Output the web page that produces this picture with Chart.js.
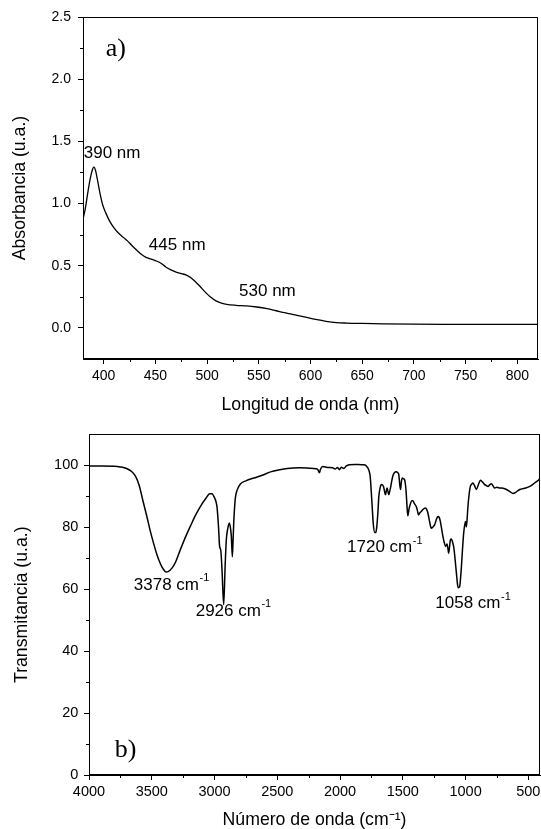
<!DOCTYPE html>
<html>
<head>
<meta charset="utf-8">
<script src="https://cdn.jsdelivr.net/npm/chart.js@4.4.1/dist/chart.umd.min.js"></script>
<style>
  html, body { margin: 0; padding: 0; background: #fff; }
  #wrap { position: relative; width: 541px; height: 829px; overflow: hidden; }
  canvas { position: absolute; left: 0; }
  #uvChart { top: 0; }
  #irChart { top: 420px; }
</style>
</head>
<body>
<div id="wrap">
  <canvas id="uvChart" width="541" height="420"></canvas>
  <canvas id="irChart" width="541" height="409"></canvas>
</div>
<script>
// a) UV-Vis spectrum
const uvWavelength = [380, 382, 384.5, 387, 389, 390.5, 392, 394, 396.5, 399, 402, 406, 410, 414, 419, 423, 427, 432, 437, 441,
  446, 450, 455, 460, 465, 470, 475, 480, 484, 488, 493, 498, 503, 509, 514, 519, 528, 538, 548, 558,
  566, 575, 585, 595, 605, 615, 625, 635, 650, 670, 700, 740, 780, 820];
const uvAbsorbance = [0.875, 0.95, 1.08, 1.20, 1.27, 1.295, 1.27, 1.19, 1.08, 0.99, 0.925, 0.855, 0.805, 0.765, 0.728, 0.70, 0.665, 0.625, 0.588, 0.567,
  0.553, 0.541, 0.522, 0.49, 0.466, 0.449, 0.437, 0.425, 0.405, 0.377, 0.335, 0.29, 0.25, 0.215, 0.20, 0.19, 0.182, 0.177, 0.168, 0.155,
  0.14, 0.122, 0.104, 0.086, 0.068, 0.053, 0.043, 0.039, 0.036, 0.033, 0.030, 0.029, 0.028, 0.028];
const uvTicksX = [400, 450, 500, 550, 600, 650, 700, 750, 800];
const uvMinorX = [425, 475, 525, 575, 625, 675, 725, 775];
const uvTicksY = [0, 0.5, 1.0, 1.5, 2.0, 2.5];
const uvMinorY = [0.25, 0.75, 1.25, 1.75, 2.25];
const uvNotes = [
  { text: '390 nm', x: 380.7, y: 1.40 },
  { text: '445 nm', x: 443.7, y: 0.667 },
  { text: '530 nm', x: 530.9, y: 0.298 }
];

// b) FTIR spectrum
const irWavenumber = [4000, 3900, 3800, 3752, 3700, 3660, 3630, 3600, 3570, 3539, 3510, 3486, 3460, 3433, 3410, 3387, 3370, 3339, 3310, 3273,
  3230, 3193, 3150, 3113, 3070, 3038, 3020, 3006, 2990, 2980, 2968, 2960, 2950, 2940, 2927, 2915, 2906, 2895, 2882, 2872,
  2866, 2858, 2852, 2847, 2840, 2834, 2820, 2794, 2750, 2687, 2620, 2554, 2480, 2421, 2325, 2250, 2192, 2175, 2165, 2155,
  2139, 2100, 2059, 2040, 2020, 2005, 1990, 1970, 1950, 1926, 1880, 1830, 1806, 1779, 1770, 1760, 1752, 1744, 1735, 1723,
  1715, 1707, 1698, 1691, 1680, 1672, 1654, 1645, 1638, 1630, 1625, 1618, 1612, 1605, 1598, 1580, 1553, 1540, 1532, 1525,
  1518, 1512, 1505, 1492, 1486, 1478, 1473, 1466, 1460, 1450, 1438, 1428, 1420, 1410, 1393, 1383, 1375, 1365, 1353, 1335,
  1319, 1310, 1300, 1285, 1273, 1260, 1247, 1230, 1220, 1210, 1201, 1190, 1180, 1168, 1159, 1148, 1140, 1135, 1128, 1121,
  1113, 1105, 1093, 1083, 1073, 1065, 1058, 1047, 1040, 1033, 1025, 1015, 1001, 994, 988, 981, 972, 962, 950, 941,
  930, 914, 900, 882, 865, 847, 835, 821, 810, 794, 780, 768, 750, 728, 700, 674, 650, 621, 600, 568,
  530, 488, 450, 420, 407];
const irTransmittance = [99.8, 99.8, 99.7, 99.5, 99.0, 98.0, 96.5, 93.5, 88.5, 83.5, 78.5, 74.9, 71.3, 68.4, 66.6, 65.6, 65.7, 66.8, 68.8, 72.7,
  77.0, 80.3, 84.0, 86.7, 89.3, 90.8, 90.8, 90.0, 88.5, 86.5, 80, 74, 72.5, 66, 55.0, 68, 76, 79.5, 81.4, 79.5,
  77, 70.5, 76, 81.4, 86.5, 89.5, 92, 94.0, 95.0, 95.9, 96.8, 97.9, 98.6, 99.0, 99.2, 99.1, 98.9, 98.5, 97.6, 98.8,
  99.6, 99.3, 99.2, 98.8, 99.3, 98.6, 99.4, 99.0, 99.8, 100.2, 100.3, 100.2, 100.2, 99.2, 98.4, 96.5, 92, 86.7, 81, 78.3,
  78.3, 80.3, 85, 90, 92.8, 93.8, 93.2, 91.5, 90.5, 92, 92.7, 91.5, 90.5, 91.5, 92.7, 96.5, 97.9, 97.6, 97.0, 94,
  92.2, 94.5, 95.9, 95.6, 95.4, 93.5, 91.1, 86.5, 83.7, 86, 87.8, 88.6, 88.6, 87.8, 86.7, 85.3, 84.0, 84.6, 85.1, 85.9,
  86.2, 85.8, 84.6, 81.5, 79.7, 80.1, 80.8, 82.8, 83.5, 83.2, 81.9, 79.3, 77.0, 74.8, 73.8, 74.6, 73, 71.6, 73.5, 75.9,
  76.2, 75.4, 73.3, 69.5, 65.2, 61.8, 60.5, 60.8, 63.5, 67.3, 72.5, 78.1, 81.9, 80.1, 82.5, 86.7, 90.5, 93.2, 94.0, 94.3,
  93.6, 92.2, 93.5, 95.2, 94.6, 93.8, 93.5, 93.2, 93.6, 94.1, 93.3, 92.7, 92.9, 92.7, 92.6, 92.2, 91.6, 90.9, 91.3, 92.2,
  92.6, 93.2, 94.3, 95.2, 95.8];
const irTicksX = [4000, 3500, 3000, 2500, 2000, 1500, 1000, 500];
const irMinorX = [3750, 3250, 2750, 2250, 1750, 1250, 750];
const irTicksY = [0, 20, 40, 60, 80, 100];
const irMinorY = [10, 30, 50, 70, 90];
const irNotes = [
  { text: '3378 cm', sup: '-1', x: 3643, y: 61.4 },
  { text: '2926 cm', sup: '-1', x: 3150, y: 53.0 },
  { text: '1720 cm', sup: '-1', x: 1944, y: 73.5 },
  { text: '1058 cm', sup: '-1', x: 1241, y: 55.4 }
];

const SANS = "'Liberation Sans', Arial, sans-serif";
const SERIF = "'Liberation Serif', 'Times New Roman', serif";

// frame box, minor ticks and peak labels
const framePlugin = {
  id: 'frame',
  afterDraw(chart, args, opts) {
    const { ctx, chartArea: a, scales } = chart;
    ctx.save();
    ctx.strokeStyle = '#000';
    ctx.lineWidth = 1;
    const l = Math.round(a.left) + 0.5, t = Math.round(a.top) + 0.5;
    const r = Math.round(a.right) - 0.5, b = Math.round(a.bottom) - 0.5;
    ctx.strokeRect(l, t, r - l, b - t);

    ctx.beginPath();
    opts.minorX.forEach(v => {
      const px = Math.round(scales.x.getPixelForValue(v)) + 0.5;
      ctx.moveTo(px, b);
      ctx.lineTo(px, b + 3.5);
    });
    opts.minorY.forEach(v => {
      const py = Math.round(scales.y.getPixelForValue(v)) + 0.5;
      ctx.moveTo(l - 3.5, py);
      ctx.lineTo(l, py);
    });
    ctx.stroke();

    ctx.fillStyle = '#000';
    ctx.textBaseline = 'middle';
    ctx.textAlign = 'left';
    opts.notes.forEach(n => {
      const px = scales.x.getPixelForValue(n.x);
      const py = scales.y.getPixelForValue(n.y);
      ctx.font = '17px ' + SANS;
      ctx.fillText(n.text, px, py);
      if (n.sup) {
        const w = ctx.measureText(n.text).width;
        ctx.font = '11px ' + SANS;
        ctx.fillText(n.sup, px + w + 0.5, py - 6.5);
      }
    });

    const tag = opts.tag;
    ctx.font = '26px ' + SERIF;
    ctx.fillText(tag.text, scales.x.getPixelForValue(tag.x), scales.y.getPixelForValue(tag.y));
    ctx.restore();
  }
};

function axisX(cfg) {
  return {
    type: 'linear',
    min: cfg.min,
    max: cfg.max,
    reverse: !!cfg.reverse,
    afterBuildTicks: s => { s.ticks = cfg.ticks.map(v => ({ value: v })); },
    afterFit: s => { s.height = cfg.height; s.paddingLeft = 0; s.paddingRight = 0; },
    border: { display: true, color: '#000', width: 1 },
    grid: { display: true, drawOnChartArea: false, drawTicks: true, tickLength: 5, tickColor: '#000' },
    ticks: { color: '#000', font: { family: SANS, size: cfg.tickSize }, padding: cfg.tickPad, maxRotation: 0, autoSkip: false, callback: v => String(v) },
    title: {
      display: true, text: cfg.title, color: '#000',
      font: { family: SANS, size: 17.7, lineHeight: cfg.titleLH },
      padding: { top: 0, bottom: cfg.titlePad }
    }
  };
}

function axisY(cfg) {
  return {
    type: 'linear',
    min: cfg.min,
    max: cfg.max,
    afterBuildTicks: s => { s.ticks = cfg.ticks.map(v => ({ value: v })); },
    afterFit: s => { s.width = cfg.width; },
    border: { display: true, color: '#000', width: 1 },
    grid: { display: true, drawOnChartArea: false, drawTicks: true, tickLength: 5, tickColor: '#000' },
    ticks: { color: '#000', font: { family: SANS, size: cfg.tickSize }, padding: cfg.tickPad, callback: cfg.fmt },
    title: {
      display: true, text: cfg.title, color: '#000',
      font: { family: SANS, size: 17.7 },
      padding: { top: cfg.titlePad, bottom: 0 }
    }
  };
}

new Chart(document.getElementById('uvChart'), {
  type: 'line',
  data: {
    datasets: [{
      data: uvWavelength.map((w, i) => ({ x: w, y: uvAbsorbance[i] })),
      borderColor: '#000',
      borderWidth: 1.3,
      pointRadius: 0,
      cubicInterpolationMode: 'monotone',
      fill: false
    }]
  },
  options: {
    responsive: false,
    animation: false,
    devicePixelRatio: 1,
    layout: { padding: { left: 0, top: 17, right: 3, bottom: 0 } },
    plugins: {
      legend: { display: false },
      tooltip: { enabled: false },
      frame: { minorX: uvMinorX, minorY: uvMinorY, notes: uvNotes, tag: { text: 'a)', x: 402, y: 2.24 } }
    },
    scales: {
      x: axisX({ min: 380, max: 820, ticks: uvTicksX, height: 61, tickSize: 14, tickPad: 4, title: 'Longitud de onda (nm)', titleLH: 1.2, titlePad: 4.5 }),
      y: axisY({ min: -0.25, max: 2.5, ticks: uvTicksY, width: 83, tickSize: 14, tickPad: 7, title: 'Absorbancia (u.a.)', titlePad: 9, fmt: v => v.toFixed(1) })
    }
  },
  plugins: [framePlugin]
});

new Chart(document.getElementById('irChart'), {
  type: 'line',
  data: {
    datasets: [{
      data: irWavenumber.map((w, i) => ({ x: w, y: irTransmittance[i] })),
      borderColor: '#000',
      borderWidth: 1.5,
      pointRadius: 0,
      cubicInterpolationMode: 'monotone',
      fill: false
    }]
  },
  options: {
    responsive: false,
    animation: false,
    devicePixelRatio: 1,
    layout: { padding: { left: 0, top: 13, right: 1, bottom: 0 } },
    plugins: {
      legend: { display: false },
      tooltip: { enabled: false },
      frame: { minorX: irMinorX, minorY: irMinorY, notes: irNotes, tag: { text: 'b)', x: 3795, y: 7.9 } }
    },
    scales: {
      x: axisX({ min: 407, max: 4000, reverse: true, ticks: irTicksX, height: 54, tickSize: 14.5, tickPad: 3.6, title: 'Número de onda (cm⁻¹)', titleLH: 1.0, titlePad: 0.3 }),
      y: axisY({ min: 0, max: 110, ticks: irTicksY, width: 89, tickSize: 14.5, tickPad: 5.7, title: 'Transmitancia (u.a.)', titlePad: 11, fmt: v => String(v) })
    }
  },
  plugins: [framePlugin]
});
</script>
</body>
</html>
